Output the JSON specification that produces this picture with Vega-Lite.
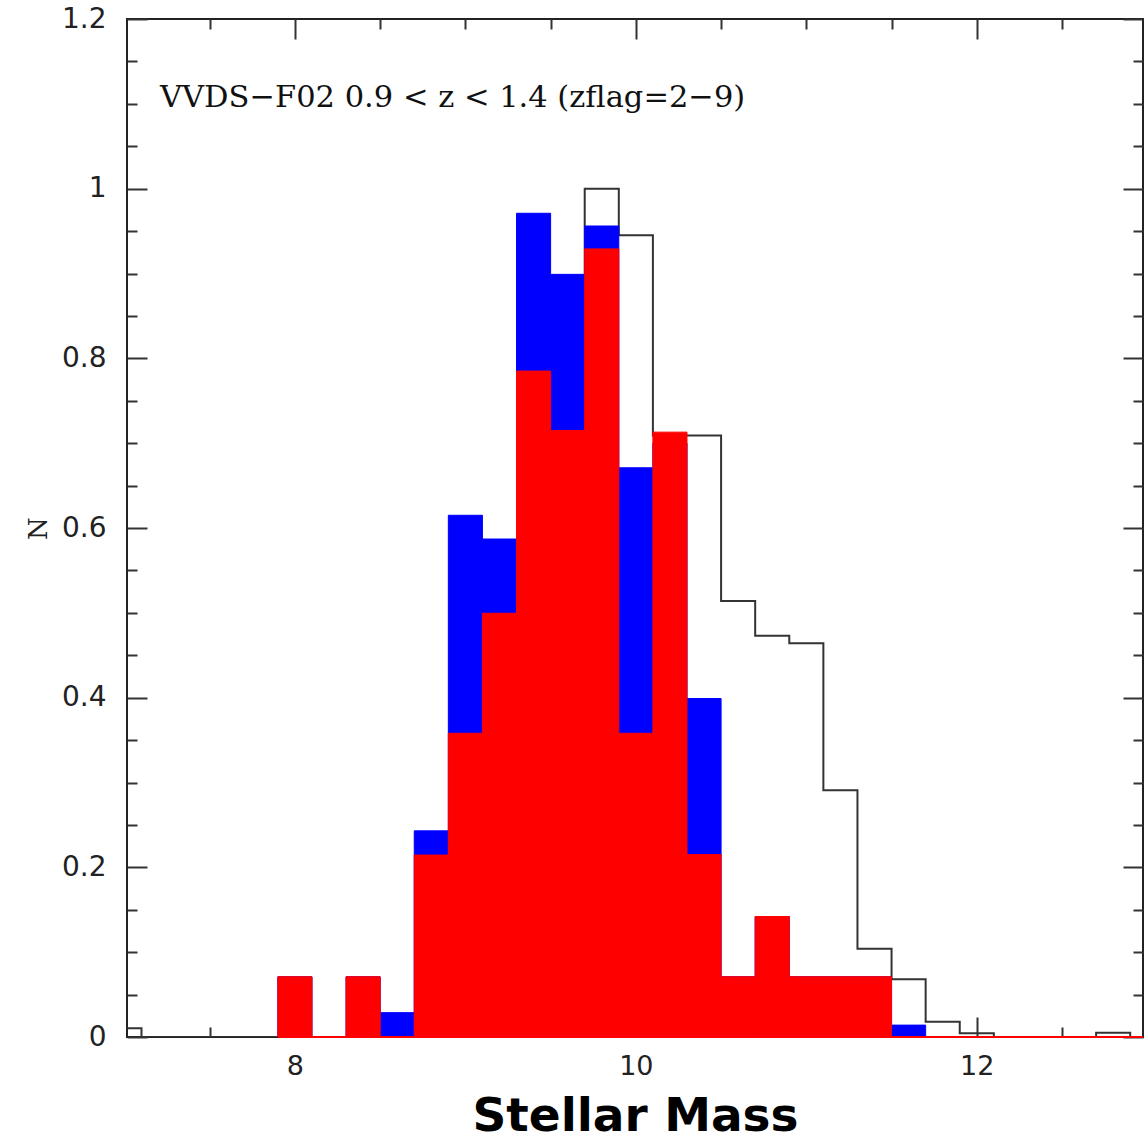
{
  "$schema": "https://vega.github.io/schema/vega-lite/v6.json",
  "width": 1016,
  "height": 1018,
  "autosize": "none",
  "padding": {"left": 127, "top": 19, "right": 5, "bottom": 104},
  "background": "white",
  "config": {
    "view": {"stroke": "#222222", "strokeWidth": 2},
    "axis": {"domain": false, "grid": false, "tickColor": "#333333", "tickWidth": 2, "labelColor": "#222222"}
  },
  "datasets": {
    "hist": [
      {"lo": 6.9, "hi": 7.1, "total": 0.0103, "blue": 0, "red": 0},
      {"lo": 7.1, "hi": 7.3, "total": 0, "blue": 0, "red": 0},
      {"lo": 7.3, "hi": 7.5, "total": 0, "blue": 0, "red": 0},
      {"lo": 7.5, "hi": 7.7, "total": 0, "blue": 0, "red": 0},
      {"lo": 7.7, "hi": 7.9, "total": 0, "blue": 0, "red": 0},
      {"lo": 7.9, "hi": 8.1, "total": 0, "blue": 0.071, "red": 0.071},
      {"lo": 8.1, "hi": 8.3, "total": 0, "blue": 0, "red": 0},
      {"lo": 8.3, "hi": 8.5, "total": 0, "blue": 0.071, "red": 0.071},
      {"lo": 8.5, "hi": 8.7, "total": 0, "blue": 0.0287, "red": 0},
      {"lo": 8.7, "hi": 8.9, "total": 0, "blue": 0.243, "red": 0.2145},
      {"lo": 8.9, "hi": 9.1, "total": 0.2, "blue": 0.615, "red": 0.358},
      {"lo": 9.1, "hi": 9.3, "total": 0.45, "blue": 0.587, "red": 0.4995},
      {"lo": 9.3, "hi": 9.5, "total": 0.55, "blue": 0.971, "red": 0.785},
      {"lo": 9.5, "hi": 9.7, "total": 0.85, "blue": 0.899, "red": 0.715},
      {"lo": 9.7, "hi": 9.9, "total": 1.0, "blue": 0.956, "red": 0.929},
      {"lo": 9.9, "hi": 10.1, "total": 0.945, "blue": 0.671, "red": 0.358},
      {"lo": 10.1, "hi": 10.3, "total": 0.709, "blue": 0.7, "red": 0.713},
      {"lo": 10.3, "hi": 10.5, "total": 0.709, "blue": 0.399, "red": 0.215},
      {"lo": 10.5, "hi": 10.7, "total": 0.514, "blue": 0.071, "red": 0.071},
      {"lo": 10.7, "hi": 10.9, "total": 0.473, "blue": 0.142, "red": 0.142},
      {"lo": 10.9, "hi": 11.1, "total": 0.464, "blue": 0.071, "red": 0.071},
      {"lo": 11.1, "hi": 11.3, "total": 0.291, "blue": 0.071, "red": 0.071},
      {"lo": 11.3, "hi": 11.5, "total": 0.104, "blue": 0.071, "red": 0.071},
      {"lo": 11.5, "hi": 11.7, "total": 0.068, "blue": 0.014, "red": 0},
      {"lo": 11.7, "hi": 11.9, "total": 0.018, "blue": 0, "red": 0},
      {"lo": 11.9, "hi": 12.1, "total": 0.0044, "blue": 0, "red": 0},
      {"lo": 12.1, "hi": 12.3, "total": 0, "blue": 0, "red": 0},
      {"lo": 12.3, "hi": 12.5, "total": 0, "blue": 0, "red": 0},
      {"lo": 12.5, "hi": 12.7, "total": 0, "blue": 0, "red": 0},
      {"lo": 12.7, "hi": 12.9, "total": 0.005, "blue": 0, "red": 0},
      {"lo": 12.9, "hi": 13.1, "total": 0, "blue": 0, "red": 0},
      {"lo": 13.1, "hi": 13.3, "total": 0, "blue": 0, "red": 0}
    ]
  },
  "resolve": {"axis": {"x": "independent", "y": "independent"}},
  "layer": [
    {
      "data": {"name": "hist"},
      "mark": {"type": "line", "interpolate": "step-after", "color": "#333333", "strokeWidth": 2, "clip": true},
      "encoding": {
        "x": {"field": "lo", "type": "quantitative", "scale": {"domain": [7.015, 12.975], "nice": false, "zero": false},
          "axis": {"orient": "bottom", "values": [8, 10, 12], "tickSize": -20, "labelPadding": 36, "labelFont": "DejaVu Sans", "labelFontSize": 27,
            "title": "Stellar Mass", "titleFont": "DejaVu Sans", "titleFontSize": 47, "titleFontWeight": "bold", "titleColor": "#000000", "titlePadding": 14}},
        "y": {"field": "total", "type": "quantitative", "scale": {"domain": [0, 1.2], "nice": false},
          "axis": {"orient": "left", "values": [0, 0.2, 0.4, 0.6, 0.8, 1, 1.2], "format": "~g", "tickSize": -20, "labelPadding": 41, "labelFont": "DejaVu Sans", "labelFontSize": 28,
            "title": "N", "titleFont": "DejaVu Serif", "titleFontSize": 26, "titleFontWeight": "normal", "titleColor": "#222222", "titlePadding": 10}}
      }
    },
    {
      "data": {"name": "hist"},
      "transform": [{"filter": "datum.blue > 0"}],
      "mark": {"type": "bar", "color": "#0000ff", "stroke": "#0000ff", "strokeWidth": 1, "clip": true},
      "encoding": {
        "x": {"field": "lo", "type": "quantitative",
          "axis": {"orient": "bottom", "values": [7.5, 8.5, 9, 9.5, 10.5, 11, 11.5, 12.5], "tickSize": -10, "labels": false, "title": null}},
        "x2": {"field": "hi"},
        "y": {"field": "blue", "type": "quantitative",
          "axis": {"orient": "left", "values": [0.05, 0.1, 0.15, 0.25, 0.3, 0.35, 0.45, 0.5, 0.55, 0.65, 0.7, 0.75, 0.85, 0.9, 0.95, 1.05, 1.1, 1.15], "tickSize": -10, "labels": false, "title": null}},
        "y2": {"datum": 0}
      }
    },
    {
      "data": {"name": "hist"},
      "transform": [{"filter": "datum.red > 0"}],
      "mark": {"type": "bar", "color": "#ff0000", "stroke": "#ff0000", "strokeWidth": 1, "clip": true},
      "encoding": {
        "x": {"field": "lo", "type": "quantitative",
          "axis": {"orient": "top", "values": [8, 10, 12], "tickSize": -20, "labels": false, "title": null}},
        "x2": {"field": "hi"},
        "y": {"field": "red", "type": "quantitative",
          "axis": {"orient": "right", "values": [0, 0.2, 0.4, 0.6, 0.8, 1, 1.2], "tickSize": -20, "labels": false, "title": null}},
        "y2": {"datum": 0}
      }
    },
    {
      "data": {"values": [{"start": 7.9, "end": 12.975, "level": 0}]},
      "mark": {"type": "rule", "color": "#ff0000", "strokeWidth": 2},
      "encoding": {
        "x": {"field": "start", "type": "quantitative",
          "axis": {"orient": "top", "values": [7.5, 8.5, 9, 9.5, 10.5, 11, 11.5, 12.5], "tickSize": -10, "labels": false, "title": null}},
        "x2": {"field": "end"},
        "y": {"field": "level", "type": "quantitative",
          "axis": {"orient": "right", "values": [0.05, 0.1, 0.15, 0.25, 0.3, 0.35, 0.45, 0.5, 0.55, 0.65, 0.7, 0.75, 0.85, 0.9, 0.95, 1.05, 1.1, 1.15], "tickSize": -10, "labels": false, "title": null}}
      }
    },
    {
      "data": {"values": [{"px": 7.209, "py": 1.107, "label": "VVDS−F02 0.9 < z < 1.4 (zflag=2−9)"}]},
      "mark": {"type": "text", "align": "left", "baseline": "middle", "font": "DejaVu Serif", "fontSize": 30.5, "color": "#111111"},
      "encoding": {
        "x": {"field": "px", "type": "quantitative", "axis": null},
        "y": {"field": "py", "type": "quantitative", "axis": null},
        "text": {"field": "label"}
      }
    }
  ]
}
